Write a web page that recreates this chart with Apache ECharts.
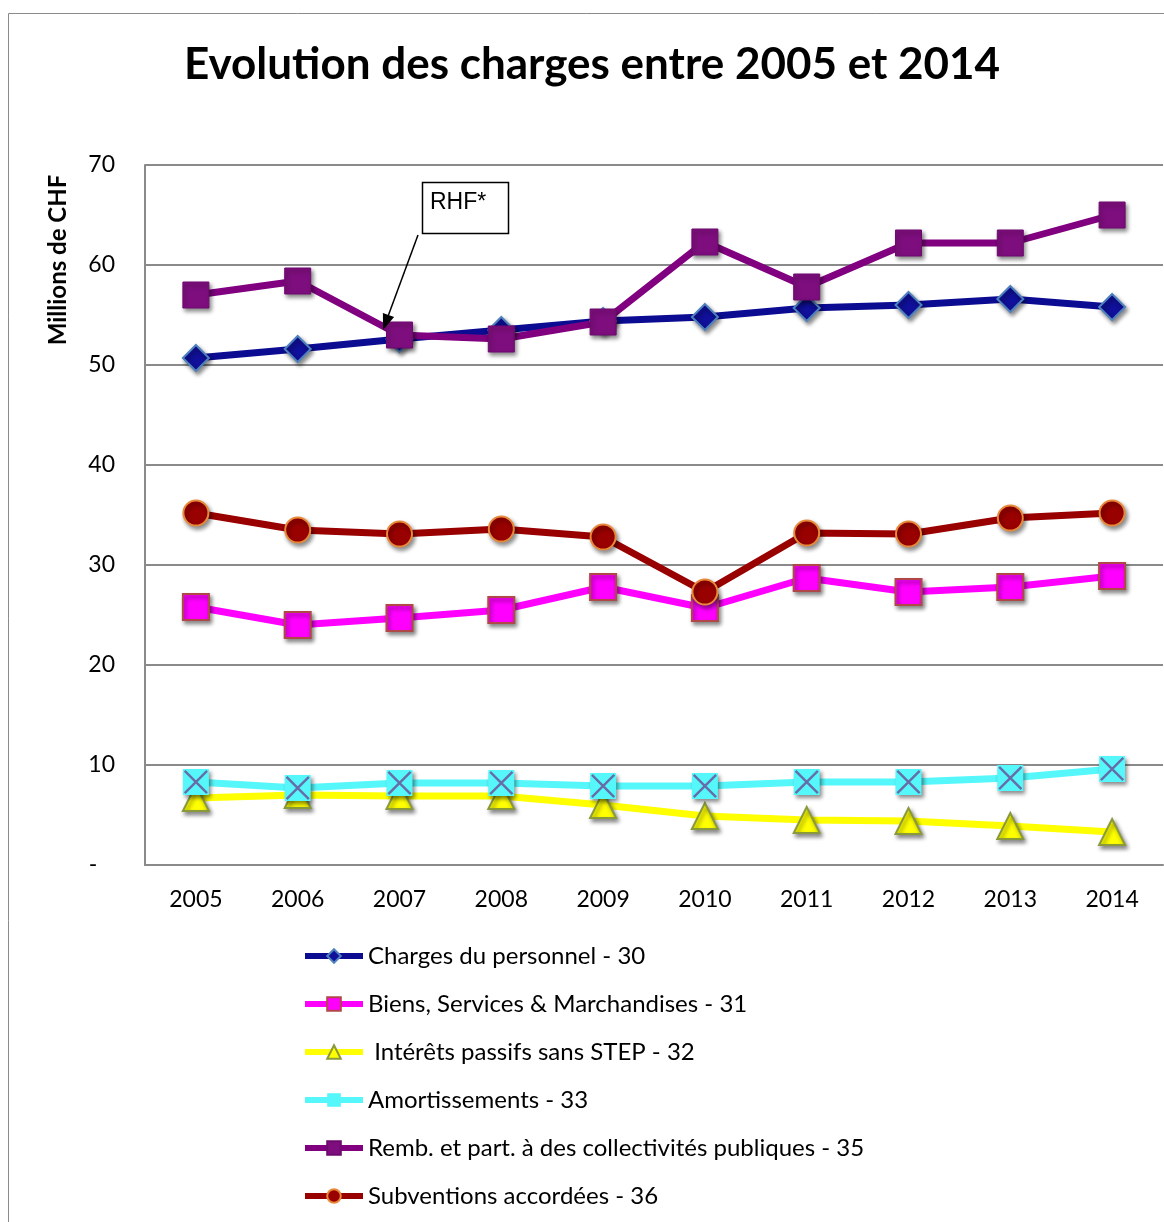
<!DOCTYPE html>
<html>
<head>
<meta charset="utf-8">
<script src="https://cdn.jsdelivr.net/npm/echarts@6/dist/echarts.min.js"></script>
<style>
html,body{margin:0;padding:0;background:#fff;}
#chart{width:1164px;height:1222px;}
</style>
</head>
<body>
<div id="chart"></div>
<script>
const years = ['2005','2006','2007','2008','2009','2010','2011','2012','2013','2014'];
const yTicks = [0,10,20,30,40,50,60,70];
const personnel = [50.7,51.6,52.6,53.5,54.4,54.8,55.7,56.0,56.6,55.8];
const biens = [25.8,24.0,24.7,25.5,27.8,25.7,28.7,27.3,27.8,28.9];
const interets = [6.7,7.0,6.9,6.9,6.0,4.9,4.5,4.4,3.9,3.3];
const amortissements = [8.3,7.7,8.2,8.2,7.9,7.9,8.3,8.3,8.7,9.6];
const remb = [57.0,58.4,53.0,52.6,54.3,62.3,57.8,62.2,62.2,65.0];
const subventions = [35.2,33.5,33.1,33.6,32.8,27.3,33.2,33.1,34.7,35.2];

const names = ['Charges du personnel - 30','Biens, Services & Marchandises - 31',' Intérêts passifs sans STEP - 32','Amortissements - 33','Remb. et part. à des collectivités publiques - 35','Subventions accordées - 36'];

const FONT = 'Lato, "Open Sans", sans-serif';
const shadow = {shadowBlur:4, shadowOffsetX:2, shadowOffsetY:3, shadowColor:'rgba(0,0,0,0.45)'};

function lineSeries(name, data, lineColor, symbol, size, fill, border, bw){
  return {
    name: name, type:'line', data: data,
    symbol: symbol, symbolSize: size,
    lineStyle:{color:lineColor, width:7},
    itemStyle:Object.assign({color:fill, borderColor:border, borderWidth:bw}, shadow),
    emphasis:{disabled:true}, animation:false
  };
}

const chart = echarts.init(document.getElementById('chart'));
chart.setOption({
  backgroundColor:'#fff',
  animation:false,
  title:{
    text:'Evolution des charges entre 2005 et 2014',
    left:179, top:38,
    textStyle:{fontFamily:FONT, fontWeight:'bold', fontSize:44, color:'#000'}
  },
  grid:{left:145, right:1, top:165, bottom:357, containLabel:false},
  xAxis:{
    type:'category', data:years, boundaryGap:true,
    axisLine:{show:true, lineStyle:{color:'#8a8a8a', width:2}},
    axisTick:{show:false},
    axisLabel:{fontFamily:FONT, fontSize:23, color:'#000', margin:23}
  },
  yAxis:{
    type:'value', min:yTicks[0], max:yTicks[yTicks.length-1], interval:10,
    axisLine:{show:true, lineStyle:{color:'#8a8a8a', width:2}},
    axisTick:{show:false},
    splitLine:{show:true, lineStyle:{color:'#8a8a8a', width:2}},
    axisLabel:{fontFamily:FONT, fontSize:23, color:'#000', margin:30,
      formatter:function(v){ return v===0 ? '-   ' : String(v); }}
  },
  legend:{
    data:names,
    orient:'vertical', left:302, top:944, padding:0,
    itemWidth:58, itemHeight:17, itemGap:24,
    lineStyle:{width:6},
    textStyle:{fontFamily:FONT, fontSize:24, color:'#000', lineHeight:24},
    selectedMode:false
  },
  series:[
    lineSeries(names[0], personnel, '#0c0c92', 'diamond', 26, '#10109a', '#4f81bd', 2),
    lineSeries(names[1], biens, '#ff00ff', 'rect', 26, '#ff00ff', '#b04848', 2),
    lineSeries(names[2], interets, '#ffff00', 'triangle', 26, '#ffff00', '#8a9a3a', 2),
    lineSeries(names[3], amortissements, '#55f7fb', 'rect', 26, '#55f7fb', '#55f7fb', 0),
    {
      name:'amortX', type:'scatter', data:amortissements,
      symbol:'path://M0,0.7L0.7,0L10,9.3L9.3,10Z M9.3,0L10,0.7L0.7,10L0,9.3Z', symbolSize:24,
      itemStyle:{color:'#6a4a94'},
      silent:true, animation:false, z:3
    },
    lineSeries(names[4], remb, '#800080', 'rect', 26, '#7e0e7e', '#6e0a6e', 1),
    lineSeries(names[5], subventions, '#990000', 'circle', 25, '#990000', '#e8893a', 2)
  ],
  graphic:[
    {type:'rect', shape:{x:8.5, y:13.5, width:1200, height:1300},
      style:{fill:'none', stroke:'#8a8a8a', lineWidth:1}, silent:true, z:-1},
    {type:'text', x:58, y:260, rotation:Math.PI/2,
      style:{text:'Millions de CHF', fontFamily:FONT, fontWeight:'bold', fontSize:24,
        fill:'#000', textAlign:'center', textVerticalAlign:'middle'}},
    {type:'rect', shape:{x:422.5, y:182.5, width:86, height:51},
      style:{fill:'#fff', stroke:'#000', lineWidth:1.5}, z:10},
    {type:'text', x:430, y:203,
      style:{text:'RHF*', fontFamily:'"Liberation Sans", Arial, sans-serif', fontSize:23,
        fill:'#000', textVerticalAlign:'middle'}, z:11},
    {type:'line', shape:{x1:418, y1:235, x2:388.5, y2:315},
      style:{stroke:'#000', lineWidth:1.5}, z:10},
    {type:'polygon', shape:{points:[[383,330],[394.1,317.1],[382.9,312.9]]},
      style:{fill:'#000'}, z:10}
  ]
});
</script>
</body>
</html>
